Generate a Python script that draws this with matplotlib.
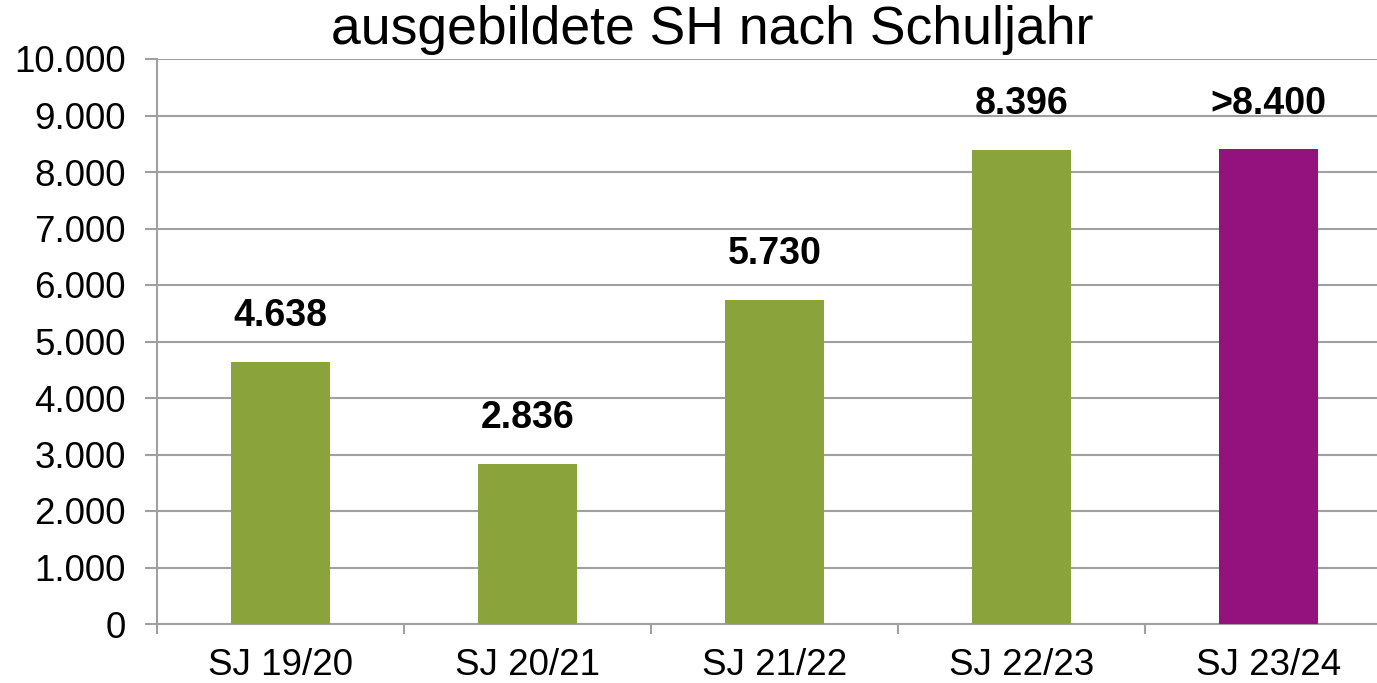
import numpy as np
import matplotlib.pyplot as plt
from matplotlib.ticker import FuncFormatter

# data
categories = ["SJ 19/20", "SJ 20/21", "SJ 21/22", "SJ 22/23", "SJ 23/24"]
values = [4638, 2836, 5730, 8396, 8400]
labels = ["4.638", "2.836", "5.730", "8.396", ">8.400"]
colors = ["#8BA33B", "#8BA33B", "#8BA33B", "#8BA33B", "#93127D"]

plt.rcParams["font.family"] = ["Liberation Sans", "DejaVu Sans"]

fig = plt.figure(figsize=(13.77, 6.83), dpi=100)
# the plot area runs past the right edge of the picture
ax = fig.add_axes([157/1377, 59/683, 1235/1377, 565/683])

x = np.arange(len(categories))
ax.bar(x, values, width=0.4, color=colors, zorder=3)

for xi, v, lab in zip(x, values, labels):
    ax.annotate(lab, (xi, v), xytext=(0, 33), textcoords="offset points",
                ha="center", va="center", fontsize=27, fontweight="bold")

ax.set_xlim(-0.5, len(categories) - 0.5)
ax.set_ylim(0, 10000)
ax.set_yticks(np.arange(0, 10001, 1000))
ax.yaxis.set_major_formatter(FuncFormatter(lambda v, p: f"{int(v):,}".replace(",", ".")))
ax.grid(axis="y", color="#a0a0a0", linewidth=1.5, zorder=0)

ax.set_xticks(x)
ax.set_xticklabels(categories)
ax.set_xticks(np.arange(-0.5, len(categories)), minor=True)
ax.tick_params(axis="x", which="major", length=0, labelsize=26.5, pad=17)
ax.tick_params(axis="x", which="minor", length=7, width=1.5, color="#a0a0a0")
ax.tick_params(axis="y", length=8.5, width=1.5, color="#a0a0a0", labelsize=26.5, pad=14)

for s in ["top", "right"]:
    ax.spines[s].set_visible(False)
for s in ["left", "bottom"]:
    ax.spines[s].set_color("#a0a0a0")
    ax.spines[s].set_linewidth(1.5)

fig.text(712/1377, 1 - 30/683, "ausgebildete SH nach Schuljahr", ha="center", va="center", fontsize=38.5)

fig.savefig("out.png", dpi=100)
